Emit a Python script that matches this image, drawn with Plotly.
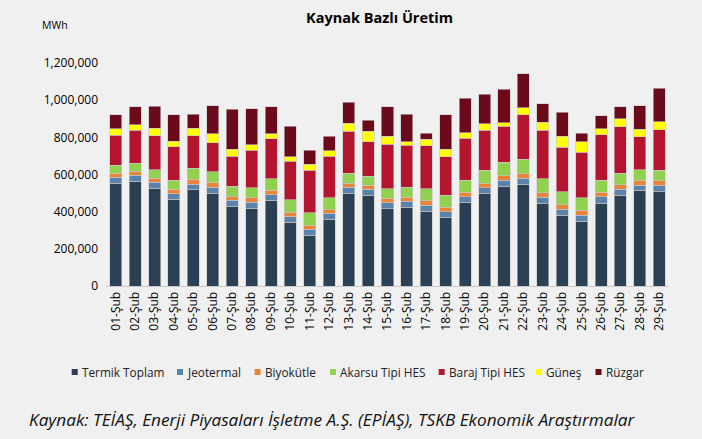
import plotly.graph_objects as go

days = [f"{i:02d}-Şub" for i in range(1, 30)]

termik = [553,564,526,466,519,499,429,418,461,342,272,358,499,488,416,423,402,369,450,499,537,548,445,382,348,445,488,514,508]
jeotermal = [32,31,32,31,29,32,32,32,31,31,34,33,32,33,33,33,32,31,29,29,32,32,32,30,34,34,33,28,34]
biyokutle = [22,23,22,23,27,24,22,26,22,23,22,20,22,21,23,21,24,23,25,25,24,24,24,24,25,25,25,27,24]
akarsu = [42,43,45,49,59,61,54,54,64,67,65,63,54,49,52,54,66,65,65,69,73,77,77,72,67,64,61,56,56]
baraj = [162,178,184,181,175,155,162,201,215,209,230,223,227,184,240,227,231,208,227,217,195,240,261,240,247,247,249,177,220]
gunes = [36,30,40,30,40,49,36,30,25,24,31,31,43,59,41,19,36,41,29,35,18,37,42,59,54,30,45,41,41]
ruzgar = [74,95,119,141,75,151,216,194,146,163,76,77,112,58,159,146,32,184,186,158,179,183,101,127,48,70,63,128,180]

series_names = ["Termik Toplam", "Jeotermal", "Biyokütle", "Akarsu Tipi HES",
                "Baraj Tipi HES", "Güneş", "Rüzgar"]
series_values = [termik, jeotermal, biyokutle, akarsu, baraj, gunes, ruzgar]
series_colors = ["#2b4054", "#5b82aa", "#ea8439", "#92d050", "#b5142f", "#ffff00", "#6b0a1a"]

# layout geometry (pixels)
W, H = 702, 439
ML, MR, MT, MB = 106, 33, 63, 153
PW, PH = W - ML - MR, H - MT - MB


def px_x(px):
    return (px - ML) / PW


def px_y(py):
    return (H - MB - py) / PH


fig = go.Figure()
for name, vals, color in zip(series_names, series_values, series_colors):
    fig.add_trace(go.Bar(
        x=days, y=[v * 1000 for v in vals], name=name, showlegend=False,
        marker=dict(color=color, line=dict(color="#c8c8c8", width=0.6)),
    ))

# custom single-row legend (marker squares + text)
legend_px = [74.7, 180, 257.6, 333, 441.7, 539, 598.5]
legend_y = 372
shapes = []
annotations = []
for name, color, lx in zip(series_names, series_colors, legend_px):
    shapes.append(dict(type="rect", xref="paper", yref="paper",
                       x0=px_x(lx - 3), x1=px_x(lx + 3),
                       y0=px_y(legend_y + 3), y1=px_y(legend_y - 3),
                       fillcolor=color, line=dict(width=0)))
    annotations.append(dict(text=name, xref="paper", yref="paper",
                            x=px_x(lx + 5), y=px_y(legend_y), xanchor="left", yanchor="middle",
                            showarrow=False, font=dict(family="Open Sans", size=11.8, color="#222")))

annotations.append(dict(text="MWh", xref="paper", yref="paper", x=px_x(54.5), y=px_y(25),
                        xanchor="center", yanchor="middle", showarrow=False,
                        font=dict(family="Open Sans", size=10.5)))
annotations.append(dict(
    text="<i>Kaynak: TEİAŞ, Enerji Piyasaları İşletme A.Ş. (EPİAŞ), TSKB Ekonomik Araştırmalar</i>",
    xref="paper", yref="paper", x=px_x(27), y=px_y(419), xanchor="left", yanchor="middle",
    showarrow=False, font=dict(family="Open Sans", size=17.2, color="#111")))

bg = "#f0f0f0"
fig.update_layout(
    barmode="stack",
    bargap=0.38,
    width=W, height=H,
    paper_bgcolor=bg, plot_bgcolor=bg,
    margin=dict(l=ML, r=MR, t=MT, b=MB, autoexpand=False),
    font=dict(family="Open Sans", size=11, color="#000000"),
    title=dict(text="<b>Kaynak Bazlı Üretim</b>", x=379.5 / W, xanchor="center",
               y=1 - 18 / H, yanchor="middle", font=dict(family="Open Sans", size=14.5)),
    showlegend=False,
    shapes=shapes,
    annotations=annotations,
)
fig.update_xaxes(showline=True, linecolor="#c8c8c8", linewidth=1, tickangle=-90,
                 ticks="", showgrid=False, automargin=False,
                 tickfont=dict(family="Open Sans", size=12))
fig.update_yaxes(range=[0, 1200000], dtick=200000, tickformat=",", showgrid=False,
                 zeroline=False, showline=False, ticks="", automargin=False,
                 ticklabelstandoff=7,
                 tickfont=dict(family="Open Sans", size=12))

fig.write_html("out.html", config={"displayModeBar": False},
               post_script="document.body.style.margin='0px';")
